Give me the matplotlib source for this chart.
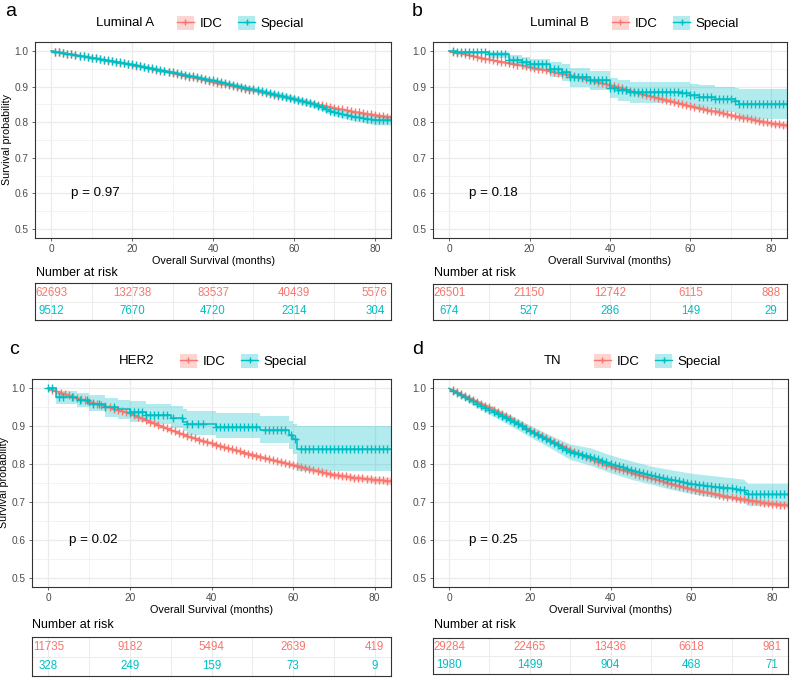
import matplotlib
matplotlib.use("Agg")
import matplotlib.pyplot as plt
from matplotlib.lines import Line2D
from matplotlib.patches import Patch
from matplotlib.ticker import FormatStrFormatter
import numpy as np

plt.rcParams['font.family'] = ['Liberation Sans', 'DejaVu Sans']

IDC_COLOR = '#F8766D'
SPECIAL_COLOR = '#00BFC4'
W, H = 790, 678

risk_breaks = [0, 20, 40, 60, 80]
censor_months = list(range(1, 85))

# ---- panel a: Luminal A ----
a_t = [0, 10, 20, 30, 40, 50, 60, 65, 70, 75, 80, 84]
a_idc = [1.0, 0.981, 0.961, 0.938, 0.913, 0.889, 0.865, 0.852, 0.840, 0.829, 0.820, 0.814]
a_idc_lo = [1.0, 0.980, 0.960, 0.936, 0.911, 0.887, 0.862, 0.849, 0.836, 0.825, 0.815, 0.808]
a_idc_hi = [1.0, 0.982, 0.962, 0.940, 0.915, 0.891, 0.868, 0.855, 0.844, 0.833, 0.825, 0.820]
a_sp = [1.0, 0.981, 0.962, 0.940, 0.917, 0.892, 0.866, 0.850, 0.828, 0.815, 0.806, 0.806]
a_sp_lo = [1.0, 0.978, 0.958, 0.935, 0.911, 0.885, 0.858, 0.841, 0.818, 0.804, 0.793, 0.792]
a_sp_hi = [1.0, 0.984, 0.966, 0.945, 0.923, 0.899, 0.874, 0.859, 0.838, 0.826, 0.819, 0.820]
a_risk_idc = [62693, 132738, 83537, 40439, 5576]
a_risk_sp = [9512, 7670, 4720, 2314, 304]

# ---- panel b: Luminal B ----
b_t_idc = [0, 10, 20, 30, 40, 50, 60, 70, 80, 84]
b_idc = [1.0, 0.976, 0.955, 0.932, 0.904, 0.873, 0.845, 0.820, 0.797, 0.791]
b_idc_lo = [1.0, 0.974, 0.952, 0.929, 0.900, 0.869, 0.840, 0.814, 0.790, 0.783]
b_idc_hi = [1.0, 0.978, 0.958, 0.935, 0.908, 0.877, 0.850, 0.826, 0.804, 0.799]
b_t_sp = [0, 2, 10, 15, 18, 20, 25, 28, 30, 35, 40, 42, 45, 58, 60, 62, 66, 71, 72, 84]
b_sp = [1.0, 0.996, 0.990, 0.975, 0.968, 0.962, 0.950, 0.940, 0.927, 0.918, 0.897, 0.890,
        0.885, 0.882, 0.875, 0.872, 0.864, 0.860, 0.851, 0.851]
b_sp_lo = [1.0, 0.990, 0.980, 0.960, 0.950, 0.944, 0.928, 0.916, 0.900, 0.890, 0.868, 0.860,
           0.855, 0.850, 0.843, 0.838, 0.828, 0.822, 0.808, 0.808]
b_sp_hi = [1.0, 1.0, 0.998, 0.988, 0.984, 0.978, 0.970, 0.962, 0.952, 0.944, 0.925, 0.918,
           0.913, 0.912, 0.906, 0.903, 0.898, 0.895, 0.892, 0.892]
b_risk_idc = [26501, 21150, 12742, 6115, 888]
b_risk_sp = [674, 527, 286, 149, 29]

# ---- panel c: HER2 ----
c_t_idc = [0, 5, 10, 15, 20, 25, 30, 35, 40, 45, 50, 55, 60, 65, 70, 75, 80, 84]
c_idc = [1.0, 0.982, 0.965, 0.950, 0.934, 0.912, 0.890, 0.871, 0.855, 0.839, 0.825, 0.811,
         0.798, 0.784, 0.772, 0.764, 0.759, 0.755]
c_idc_lo = [1.0, 0.980, 0.962, 0.947, 0.931, 0.908, 0.886, 0.867, 0.850, 0.834, 0.820, 0.806,
            0.792, 0.778, 0.765, 0.757, 0.751, 0.746]
c_idc_hi = [1.0, 0.984, 0.968, 0.953, 0.937, 0.916, 0.894, 0.875, 0.860, 0.844, 0.830, 0.816,
            0.804, 0.790, 0.779, 0.771, 0.767, 0.764]
c_t_sp = [0, 2, 7, 10, 14, 17, 20, 24, 30, 33, 34, 41, 52, 59, 60, 61, 84]
c_sp = [1.0, 0.978, 0.969, 0.960, 0.952, 0.945, 0.939, 0.930, 0.921, 0.912, 0.905, 0.898,
        0.890, 0.877, 0.866, 0.840, 0.840]
c_sp_lo = [1.0, 0.960, 0.950, 0.940, 0.925, 0.918, 0.912, 0.905, 0.896, 0.887, 0.878, 0.868,
           0.856, 0.840, 0.828, 0.781, 0.781]
c_sp_hi = [1.0, 0.993, 0.987, 0.982, 0.975, 0.970, 0.966, 0.960, 0.954, 0.946, 0.940, 0.934,
           0.926, 0.915, 0.905, 0.900, 0.900]
c_censor_sp = [0, 1, 2.5, 3.7, 5.7, 7.8, 9.5, 11, 12.5, 14, 16, 20, 21, 22, 23, 24, 25, 26, 27,
               28, 29, 30.6, 32.7, 34, 35.3, 36.6, 38, 41, 42, 43, 44, 45, 46, 47, 48, 49, 50,
               51, 53, 54, 55, 56, 57, 58, 59.6, 60.5, 62, 63, 64, 65, 66, 67, 68, 69, 70, 71,
               72, 73, 74, 75, 76, 77, 78, 79, 80, 81, 82, 83]
c_risk_idc = [11735, 9182, 5494, 2639, 419]
c_risk_sp = [328, 249, 159, 73, 9]

# ---- panel d: TN ----
d_t_idc = [0, 5, 10, 15, 20, 25, 30, 35, 40, 45, 50, 55, 60, 65, 70, 75, 80, 84]
d_idc = [1.0, 0.974, 0.950, 0.921, 0.890, 0.864, 0.837, 0.815, 0.794, 0.778, 0.763, 0.748,
         0.734, 0.723, 0.712, 0.703, 0.695, 0.691]
d_idc_lo = [1.0, 0.972, 0.947, 0.918, 0.887, 0.861, 0.834, 0.811, 0.790, 0.774, 0.759, 0.744,
            0.729, 0.718, 0.707, 0.697, 0.689, 0.684]
d_idc_hi = [1.0, 0.976, 0.953, 0.924, 0.893, 0.867, 0.840, 0.819, 0.798, 0.782, 0.767, 0.752,
            0.739, 0.728, 0.717, 0.709, 0.701, 0.698]
d_t_sp = [0, 5, 10, 15, 20, 25, 30, 35, 40, 45, 50, 55, 60, 65, 70, 73, 74, 84]
d_sp = [1.0, 0.971, 0.944, 0.917, 0.888, 0.860, 0.833, 0.820, 0.801, 0.785, 0.770, 0.759,
        0.748, 0.741, 0.736, 0.731, 0.720, 0.720]
d_sp_lo = [1.0, 0.962, 0.932, 0.903, 0.872, 0.843, 0.812, 0.797, 0.777, 0.760, 0.747, 0.733,
           0.722, 0.713, 0.707, 0.700, 0.690, 0.690]
d_sp_hi = [1.0, 0.980, 0.956, 0.931, 0.903, 0.877, 0.853, 0.843, 0.824, 0.809, 0.795, 0.785,
           0.776, 0.770, 0.764, 0.760, 0.749, 0.749]
d_risk_idc = [29284, 22465, 13436, 6618, 981]
d_risk_sp = [1980, 1499, 904, 468, 71]


def rect(l, t, r, b):
    return [l / W, 1 - b / H, (r - l) / W, (b - t) / H]


def draw_curve(ax, t, s, lo, hi, color, step, censor):
    t = np.asarray(t, dtype=float)
    s = np.asarray(s)
    if step:
        ax.fill_between(t, lo, hi, color=color, alpha=0.3, lw=0, step='post')
        ax.plot(t, s, color=color, lw=1.1, drawstyle='steps-post')
        idx = np.searchsorted(t, censor, side='right') - 1
        cy = s[idx]
    else:
        ax.fill_between(t, lo, hi, color=color, alpha=0.3, lw=0)
        ax.plot(t, s, color=color, lw=1.1)
        cy = np.interp(censor, t, s)
    ax.plot(censor, cy, ls='none', marker='+', ms=5.5, mew=1.0, color=color)


def style_main(ax, ylabel):
    ax.set_xlim(-4, 84)
    ax.set_ylim(0.475, 1.025)
    ax.set_xticks(risk_breaks)
    ax.set_xticks([10, 30, 50, 70], minor=True)
    ax.set_yticks([0.5, 0.6, 0.7, 0.8, 0.9, 1.0])
    ax.set_yticks([0.55, 0.65, 0.75, 0.85, 0.95], minor=True)
    ax.yaxis.set_major_formatter(FormatStrFormatter('%.1f'))
    ax.grid(which='major', color='#EBEBEB', lw=0.9)
    ax.grid(which='minor', color='#F0F0F0', lw=0.6)
    ax.set_axisbelow(True)
    for sp in ax.spines.values():
        sp.set_color('#333333')
        sp.set_linewidth(0.8)
    ax.tick_params(which='major', labelsize=7.3, colors='#4D4D4D', length=2.5, width=0.6, pad=2)
    ax.tick_params(which='minor', length=0)
    ax.set_xlabel('Overall Survival (months)', fontsize=7.8, labelpad=1.5)
    if ylabel:
        ax.set_ylabel('Survival probability', fontsize=7.7, labelpad=2)


def risk_table(box, idc_vals, sp_vals):
    ax = fig.add_axes(rect(*box))
    ax.set_xlim(-4, 84)
    ax.set_ylim(0, 1)
    ax.set_xticks(risk_breaks)
    ax.set_xticks([10, 30, 50, 70], minor=True)
    ax.set_yticks([0.5])
    ax.grid(which='both', color='#EBEBEB', lw=0.7)
    ax.set_axisbelow(True)
    ax.tick_params(which='both', length=0, labelbottom=False, labelleft=False)
    for sp in ax.spines.values():
        sp.set_color('#333333')
        sp.set_linewidth(0.8)
    for x, v in zip(risk_breaks, idc_vals):
        ax.text(x, 0.74, str(v), ha='center', va='center', color=IDC_COLOR,
                fontsize=8.3, clip_on=True)
    for x, v in zip(risk_breaks, sp_vals):
        ax.text(x, 0.25, str(v), ha='center', va='center', color=SPECIAL_COLOR,
                fontsize=8.3, clip_on=True)


def legend(title, title_x, box_x, y):
    fig.text(title_x / W, 1 - y / H, title, fontsize=9.5, va='center', ha='left')
    handles = [
        (Patch(facecolor=IDC_COLOR, alpha=0.3, lw=0),
         Line2D([], [], color=IDC_COLOR, lw=1, marker='+', ms=5)),
        (Patch(facecolor=SPECIAL_COLOR, alpha=0.3, lw=0),
         Line2D([], [], color=SPECIAL_COLOR, lw=1, marker='+', ms=5)),
    ]
    fig.legend(handles, ['IDC', 'Special'], loc='center left',
               bbox_to_anchor=(box_x / W, 1 - y / H), ncol=2, frameon=False,
               fontsize=9.5, borderpad=0, borderaxespad=0, handlelength=1.26,
               handleheight=1.26, handletextpad=0.45, columnspacing=1.2)


fig = plt.figure(figsize=(7.9, 6.78), dpi=100)

panels = [
    dict(box=(35, 42, 391, 238), label='a', lab_xy=(5, 16), ylabel=True,
         curves=[(a_t, a_idc, a_idc_lo, a_idc_hi, IDC_COLOR, False, censor_months),
                 (a_t, a_sp, a_sp_lo, a_sp_hi, SPECIAL_COLOR, False, censor_months)],
         p='p = 0.97', title='Luminal A', leg=(96, 177, 23),
         nar=(36, 276), risk=(35, 283, 391, 320), rv=(a_risk_idc, a_risk_sp)),
    dict(box=(433, 42, 787, 238), label='b', lab_xy=(412, 16), ylabel=False,
         curves=[(b_t_idc, b_idc, b_idc_lo, b_idc_hi, IDC_COLOR, False, censor_months),
                 (b_t_sp, b_sp, b_sp_lo, b_sp_hi, SPECIAL_COLOR, True, censor_months)],
         p='p = 0.18', title='Luminal B', leg=(530, 612, 23),
         nar=(434, 276), risk=(433, 284, 787, 320), rv=(b_risk_idc, b_risk_sp)),
    dict(box=(32, 379, 391, 587), label='c', lab_xy=(9, 354), ylabel=True,
         curves=[(c_t_idc, c_idc, c_idc_lo, c_idc_hi, IDC_COLOR, False, censor_months),
                 (c_t_sp, c_sp, c_sp_lo, c_sp_hi, SPECIAL_COLOR, True, c_censor_sp)],
         p='p = 0.02', title='HER2', leg=(119, 180, 361),
         nar=(32, 628), risk=(32, 637, 391, 676), rv=(c_risk_idc, c_risk_sp)),
    dict(box=(433, 379, 788, 587), label='d', lab_xy=(412, 354), ylabel=False,
         curves=[(d_t_idc, d_idc, d_idc_lo, d_idc_hi, IDC_COLOR, False, censor_months),
                 (d_t_sp, d_sp, d_sp_lo, d_sp_hi, SPECIAL_COLOR, False, censor_months)],
         p='p = 0.25', title='TN', leg=(544, 594, 361),
         nar=(434, 628), risk=(433, 638, 788, 674), rv=(d_risk_idc, d_risk_sp)),
]

for pnl in panels:
    ax = fig.add_axes(rect(*pnl['box']))
    for t, s, lo, hi, col, step, cens in pnl['curves']:
        draw_curve(ax, t, s, lo, hi, col, step, cens)
    style_main(ax, pnl['ylabel'])
    ax.text(5, 0.6, pnl['p'], fontsize=9.6, ha='left', va='center')
    lx, ly = pnl['lab_xy']
    fig.text(lx / W, 1 - ly / H, pnl['label'], fontsize=14, va='baseline', ha='left')
    legend(pnl['title'], *pnl['leg'])
    nx, ny = pnl['nar']
    fig.text(nx / W, 1 - ny / H, 'Number at risk', fontsize=9, va='baseline', ha='left')
    risk_table(pnl['risk'], *pnl['rv'])

fig.savefig('out.png', dpi=100)
